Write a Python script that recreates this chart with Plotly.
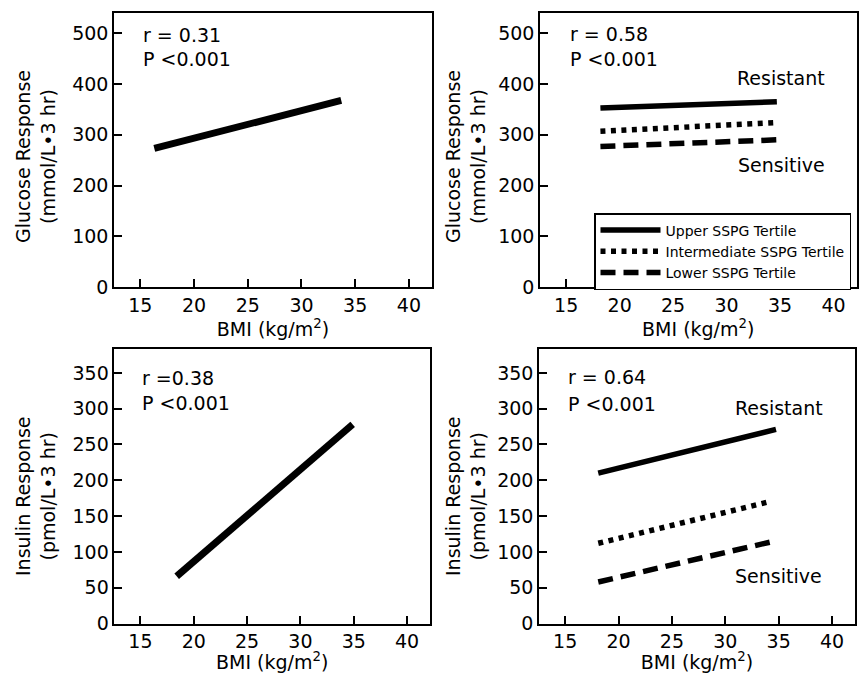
import plotly.graph_objects as go

# ---- data ----
x_ticks = [15, 20, 25, 30, 35, 40]
glu_ticks = [0, 100, 200, 300, 400, 500]
ins_ticks = [0, 50, 100, 150, 200, 250, 300, 350]

glu_all_x = [16.3, 33.7]
glu_all_y = [273, 368]

glu_tert_x = [18.2, 34.7]
glu_upper_y = [353, 365]
glu_inter_y = [307, 324]
glu_lower_y = [277, 290]

ins_all_x = [18.4, 34.9]
ins_all_y = [66, 278]

ins_upper_x = [18.1, 34.75]
ins_upper_y = [210, 271]
ins_inter_x = [18.1, 34.1]
ins_inter_y = [112, 170]
ins_lower_x = [18.1, 34.3]
ins_lower_y = [58, 114]

tertile_names = ["Upper SSPG Tertile", "Intermediate SSPG Tertile", "Lower SSPG Tertile"]

FONT = "DejaVu Sans"
FS = 19
W, H = 867, 673
LW1 = 7      # single regression lines
LW3 = 5.5    # tertile lines
DOT = "5px,5.5px"
DASH = "15px,8px"

fig = go.Figure()

# panel 1: glucose, all
fig.add_trace(go.Scatter(x=glu_all_x, y=glu_all_y, mode="lines", xaxis="x", yaxis="y",
                         line=dict(color="black", width=LW1), showlegend=False))
# panel 2: glucose, tertiles
fig.add_trace(go.Scatter(x=glu_tert_x, y=glu_upper_y, mode="lines", xaxis="x2", yaxis="y2",
                         name=tertile_names[0], line=dict(color="black", width=LW3, dash="solid")))
fig.add_trace(go.Scatter(x=glu_tert_x, y=glu_inter_y, mode="lines", xaxis="x2", yaxis="y2",
                         name=tertile_names[1], line=dict(color="black", width=LW3, dash=DOT)))
fig.add_trace(go.Scatter(x=glu_tert_x, y=glu_lower_y, mode="lines", xaxis="x2", yaxis="y2",
                         name=tertile_names[2], line=dict(color="black", width=LW3, dash=DASH)))
# panel 3: insulin, all
fig.add_trace(go.Scatter(x=ins_all_x, y=ins_all_y, mode="lines", xaxis="x3", yaxis="y3",
                         line=dict(color="black", width=LW1), showlegend=False))
# panel 4: insulin, tertiles
fig.add_trace(go.Scatter(x=ins_upper_x, y=ins_upper_y, mode="lines", xaxis="x4", yaxis="y4",
                         line=dict(color="black", width=LW3), showlegend=False))
fig.add_trace(go.Scatter(x=ins_inter_x, y=ins_inter_y, mode="lines", xaxis="x4", yaxis="y4",
                         line=dict(color="black", width=LW3, dash=DOT), showlegend=False))
fig.add_trace(go.Scatter(x=ins_lower_x, y=ins_lower_y, mode="lines", xaxis="x4", yaxis="y4",
                         line=dict(color="black", width=LW3, dash=DASH), showlegend=False))

def px_dom(a, b):
    return [a / W, b / W]

def py_dom(top, bottom):
    return [1 - bottom / H, 1 - top / H]

xtitle = "BMI (kg/m<sup>2</sup>)"
glu_title = "Glucose Response<br>(mmol/L•3 hr)"
ins_title = "Insulin Response<br>(pmol/L•3 hr)"

def xax(dom, anchor):
    return dict(domain=dom, anchor=anchor, range=[12.55, 42.15], tickvals=x_ticks,
                ticks="inside", ticklen=8, tickwidth=1.5, tickcolor="black",
                showline=True, mirror=True, linecolor="black", linewidth=1.5,
                showgrid=False, zeroline=False,
                tickfont=dict(family=FONT, size=FS, color="black"),
                title=dict(text=xtitle, font=dict(family=FONT, size=FS, color="black"), standoff=2))

def yax(dom, anchor, rng, tv):
    return dict(domain=dom, anchor=anchor, range=rng, tickvals=tv,
                ticks="inside", ticklen=8, tickwidth=1.5, tickcolor="black",
                showline=True, mirror=True, linecolor="black", linewidth=1.5,
                showgrid=False, zeroline=False,
                tickfont=dict(family=FONT, size=FS, color="black"))

d1x = px_dom(114, 432); d2x = px_dom(540, 856.5)
d3x = px_dom(114.3, 430); d4x = px_dom(539, 855)
dtop = py_dom(13, 287); dbot = py_dom(348.5, 623.5)

fig.update_layout(
    width=W, height=H,
    margin=dict(l=0, r=0, t=0, b=0, autoexpand=False),
    paper_bgcolor="white", plot_bgcolor="white",
    font=dict(family=FONT, size=FS, color="black"),
    xaxis=xax(d1x, "y"), yaxis=yax(dtop, "x", [0, 540], glu_ticks),
    xaxis2=xax(d2x, "y2"), yaxis2=yax(dtop, "x2", [0, 540], glu_ticks),
    xaxis3=xax(d3x, "y3"), yaxis3=yax(dbot, "x3", [0, 384], ins_ticks),
    xaxis4=xax(d4x, "y4"), yaxis4=yax(dbot, "x4", [0, 384], ins_ticks),
    legend=dict(x=594 / W, y=1 - 213 / H, xanchor="left", yanchor="top",
                bgcolor="white", bordercolor="black", borderwidth=1.5,
                font=dict(family=FONT, size=14, color="black"),
                itemwidth=60, tracegroupgap=0, traceorder="normal"),
    showlegend=True,
)

def ann(xref, yref, x, y, text, xanchor="left"):
    fig.add_annotation(xref=xref, yref=yref, x=x, y=y, text=text, showarrow=False,
                       xanchor=xanchor, yanchor="middle",
                       font=dict(family=FONT, size=FS, color="black"))

# y-axis titles (two lines, rotated)
def ytitle(xc, yc, text):
    fig.add_annotation(xref="paper", yref="paper", x=xc / W, y=1 - yc / H, text=text,
                       showarrow=False, textangle=-90, xanchor="center", yanchor="middle",
                       font=dict(family=FONT, size=FS, color="black"))

ytitle(35, 157, glu_title)
ytitle(465, 157, glu_title)
ytitle(35, 497, ins_title)
ytitle(465, 497, ins_title)

ann("x", "y", 15.1, 496, "r = 0.31")
ann("x", "y", 15.1, 449, "P <0.001")
ann("x2", "y2", 15.2, 499, "r = 0.58")
ann("x2", "y2", 15.2, 449, "P <0.001")
ann("x2", "y2", 35.1, 412, "Resistant", "center")
ann("x2", "y2", 35.1, 241, "Sensitive", "center")
ann("x3", "y3", 15.0, 343, "r =0.38")
ann("x3", "y3", 15.0, 308, "P <0.001")
ann("x4", "y4", 15.1, 344, "r = 0.64")
ann("x4", "y4", 15.1, 306, "P <0.001")
ann("x4", "y4", 35.0, 301, "Resistant", "center")
ann("x4", "y4", 35.0, 67, "Sensitive", "center")

fig.write_html("out.html", config={"displayModeBar": False},
               post_script="document.body.style.margin='0';document.body.style.padding='0';")
